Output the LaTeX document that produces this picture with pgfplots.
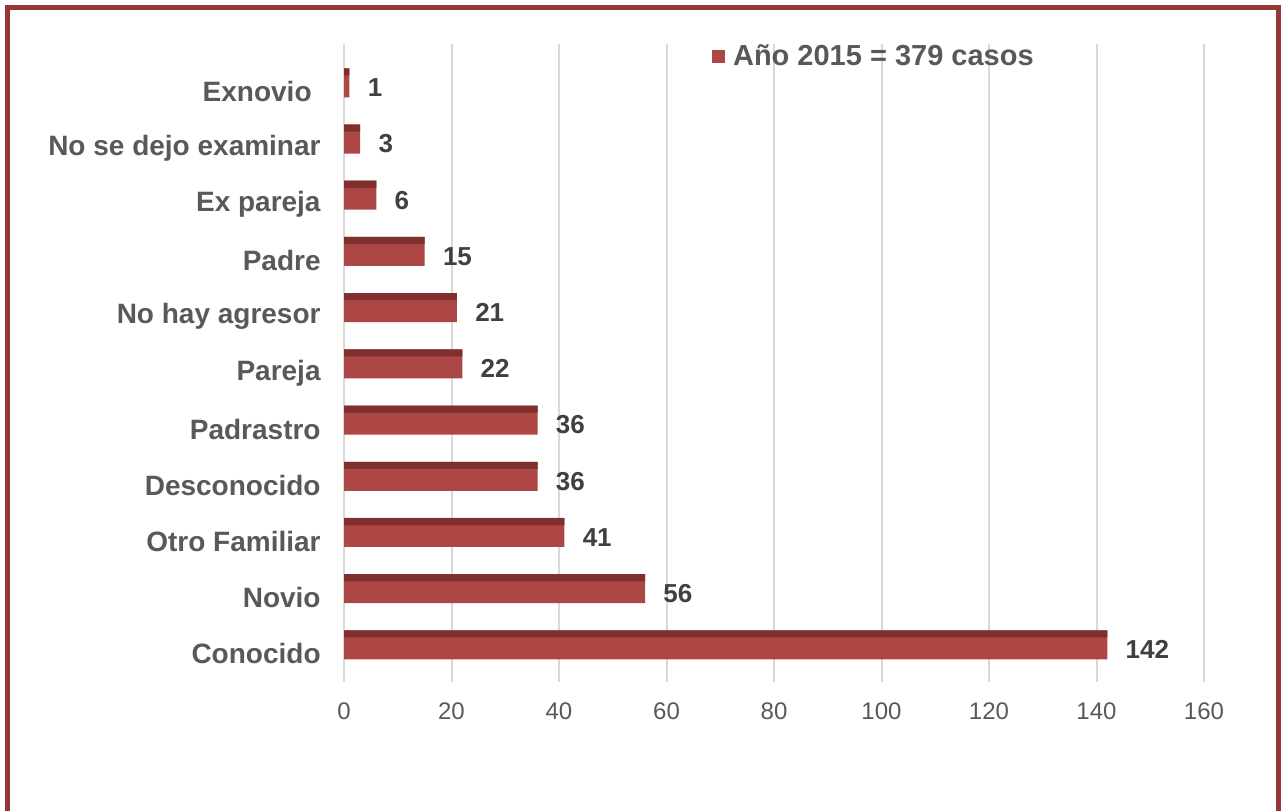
\documentclass[border=0pt]{standalone}
\usepackage{pgfplots}
\pgfplotsset{compat=1.18}
\usepackage{fontspec}
\setmainfont{Liberation Sans}
\definecolor{barcol}{RGB}{172,71,69}
\definecolor{stripecol}{RGB}{128,47,47}
\definecolor{bordercol}{RGB}{149,55,53}
\definecolor{labgray}{RGB}{89,89,89}
\definecolor{datgray}{RGB}{64,64,64}
\definecolor{gridgray}{RGB}{217,217,217}
\begin{document}
\begin{tikzpicture}
\useasboundingbox (0,0) rectangle (641bp,-405.5bp);
\draw[bordercol, line width=2.5bp] (3.75bp,-405.5bp) -- (3.75bp,-3.75bp) -- (639.25bp,-3.75bp) -- (639.25bp,-405.5bp);
\begin{axis}[
  at={(172bp,-341bp)}, anchor=south west,
  scale only axis, width=430bp, height=319bp,
  xbar,
  xmin=0, xmax=160, ymin=-0.66, ymax=10.69,
  xtick={0,20,...,160},
  ytick={0,...,10},
  yticklabels={Conocido,Novio,Otro Familiar,Desconocido,Padrastro,Pareja,No hay agresor,Padre,Ex pareja,No se dejo examinar,Exnovio\rule{4.5bp}{0pt}},
  axis line style={draw=none},
  major tick length=0pt,
  xmajorgrids, grid style={gridgray, line width=1bp},
  /pgf/number format/assume math mode=true,
  xticklabel style={font=\fontsize{12bp}{14bp}\selectfont, text=labgray, inner sep=0pt, anchor=north, yshift=-10bp},
  yticklabel style={font=\fontsize{14bp}{16bp}\selectfont\bfseries, text=labgray, inner sep=0pt, anchor=east, xshift=-11.5bp, yshift=-4.5bp},
  legend style={at={(0.428,0.98)}, anchor=west, draw=none, fill=none, inner sep=0pt, outer sep=0pt, column sep=4bp, nodes={inner sep=0pt}, font=\fontsize{14.5bp}{17bp}\selectfont\bfseries, text=labgray},
  legend image code/.code={\fill[barcol] (0bp,-3.25bp) rectangle (6.5bp,3.25bp);},
]
\addplot[fill=barcol, draw=none, bar width=0.516, bar shift=0,
  nodes near coords, every node near coord/.style={font=\fontsize{13bp}{15bp}\selectfont\bfseries, text=datgray, anchor=west, inner sep=0pt, xshift=9bp, yshift=-2.5bp}]
  coordinates {(142,0) (56,1) (41,2) (36,3) (36,4) (22,5) (21,6) (15,7) (6,8) (3,9) (1,10)};
\addlegendentry{Año 2015 = 379 casos}
\addplot[fill=stripecol, draw=none, bar width=0.125, bar shift=0.195, forget plot]
  coordinates {(142,0) (56,1) (41,2) (36,3) (36,4) (22,5) (21,6) (15,7) (6,8) (3,9) (1,10)};
\end{axis}
\end{tikzpicture}
\end{document}
